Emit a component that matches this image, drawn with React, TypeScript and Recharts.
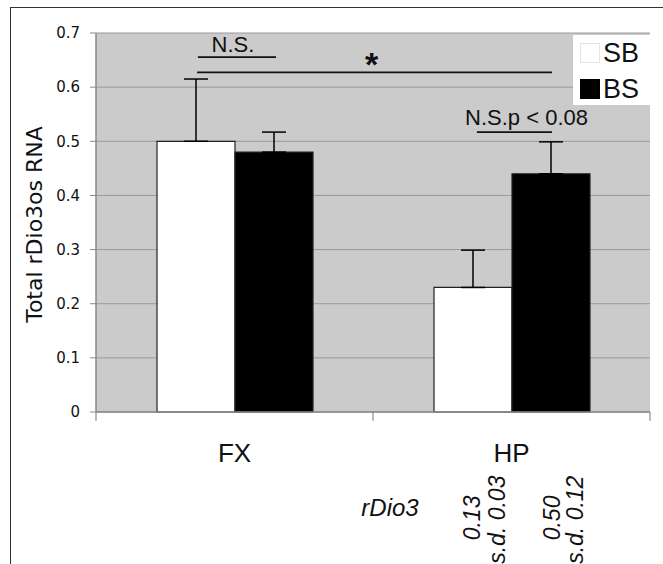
import React from 'react';
import {
  BarChart, Bar, XAxis, YAxis, CartesianGrid, ErrorBar, Legend,
  ReferenceLine, ReferenceDot,
} from 'recharts';

// ---- data ----
const categories = ['FX', 'HP'];
const seriesNames = ['SB', 'BS'];
const sbValues = [0.5, 0.23];
const bsValues = [0.48, 0.44];
const sbErrors = [0.115, 0.069];
const bsErrors = [0.037, 0.059];
const yTicks = [0, 0.1, 0.2, 0.3, 0.4, 0.5, 0.6, 0.7];
const boundaryTicks = [0, 1, 2];
const yTitle = 'Total rDio3os RNA';
const sigLabels = ['N.S.', '*', 'N.S.p < 0.08'];
const rDio3Label = 'rDio3';
const rDio3Means = ['0.13', '0.50'];
const rDio3Sds = ['s.d. 0.03', 's.d. 0.12'];

const data = categories.map((c, i) => ({
  cat: c,
  pos: i + 0.5,
  sb: sbValues[i],
  bs: bsValues[i],
  sbErr: [0, sbErrors[i]],
  bsErr: [0, bsErrors[i]],
}));

const SANS = '"Liberation Sans", Arial, sans-serif';
const VERD = '"DejaVu Sans", Verdana, sans-serif';

const textLabel = (text: string, opts: any) => (props: any) => {
  const vb = props.viewBox || {};
  const x = (vb.x || 0) + (vb.width || 0) / 2;
  const y = (vb.y || 0) + (vb.height || 0) / 2;
  return (
    <text
      x={x}
      y={y}
      textAnchor={opts.anchor || 'middle'}
      transform={opts.rotate ? `rotate(-90, ${x}, ${y})` : undefined}
      style={{
        fontFamily: SANS,
        fontSize: opts.size || 22,
        fontWeight: opts.bold ? 'bold' : 'normal',
        fontStyle: opts.italic ? 'italic' : 'normal',
        fill: '#111',
      }}
    >
      {text}
    </text>
  );
};

const CatTick = (props: any) => {
  const { x, y, payload } = props;
  return (
    <text x={x} y={y + 50} textAnchor="middle" style={{ fontFamily: SANS, fontSize: 26, fill: '#111' }}>
      {payload.value}
    </text>
  );
};

const EmptyTick = () => <g />;

const LegendBox = (props: any) => {
  const payload = [...(props.payload || [])].sort(
    (a: any, b: any) => seriesNames.indexOf(a.value) - seriesNames.indexOf(b.value)
  );
  return (
    <div style={{ background: '#fff', width: 77, height: 70, boxSizing: 'border-box', paddingTop: 8 }}>
      {payload.map((p: any, i: number) => (
        <div key={i} style={{ display: 'flex', alignItems: 'center', height: 20, marginBottom: 16 }}>
          <span
            style={{
              display: 'inline-block', width: 20, height: 20, marginLeft: 7, boxSizing: 'border-box',
              background: p.color, border: p.color === '#ffffff' ? '1px solid #e4e4e4' : 'none',
            }}
          />
          <span style={{ marginLeft: 3, fontFamily: SANS, fontSize: 27, lineHeight: '20px', color: '#111' }}>
            {p.value}
          </span>
        </div>
      ))}
    </div>
  );
};

export default function App() {
  return (
    <div style={{ position: 'absolute', left: 0, top: 0, width: 663, height: 564, overflow: 'hidden', background: '#fff' }}>
      <div
        style={{
          position: 'absolute', left: 10, top: 7, width: 700, height: 600,
          borderLeft: '1.5px solid #333', borderTop: '1.5px solid #333',
        }}
      />
      <div style={{ position: 'absolute', left: 0, top: 0 }}>
        <BarChart
          width={663}
          height={564}
          data={data}
          margin={{ top: 33, right: 13, left: 36, bottom: 102 }}
          barCategoryGap="21.8%"
          barGap={0}
        >
          <CartesianGrid vertical={false} fill="#cbcbcb" stroke="#9a9a9a" strokeWidth={1} />
          <XAxis
            xAxisId="num"
            dataKey="pos"
            type="number"
            domain={[0, 2]}
            ticks={boundaryTicks}
            tick={<EmptyTick />}
            tickLine={false}
            axisLine={false}
            height={0}
            allowDataOverflow
          />
          <XAxis
            dataKey="cat"
            axisLine={{ stroke: '#888', strokeWidth: 1.5 }}
            tickLine={false}
            tickSize={0}
            tickMargin={0}
            height={50}
            tick={<CatTick />}
          />
          <YAxis
            domain={[0, 0.7]}
            ticks={yTicks}
            width={60}
            tickSize={6}
            tickMargin={10}
            axisLine={{ stroke: '#888', strokeWidth: 1.5 }}
            tickLine={{ stroke: '#888' }}
            tick={{ fontFamily: VERD, fontSize: 15, fill: '#111' }}
            label={(props: any) => {
              const vb = props.viewBox || {};
              const cx = 42;
              const cy = (vb.y || 0) + (vb.height || 0) / 2 + 2;
              return (
                <text
                  x={cx}
                  y={cy}
                  textAnchor="middle"
                  transform={`rotate(-90, ${cx}, ${cy})`}
                  style={{ fontFamily: VERD, fontSize: 22, fill: '#111' }}
                >
                  {yTitle}
                </text>
              );
            }}
          />
          <YAxis
            yAxisId="r"
            orientation="right"
            domain={[0, 0.7]}
            width={0}
            tick={false}
            tickLine={false}
            axisLine={{ stroke: '#9a9a9a', strokeWidth: 1.5 }}
          />
          <Legend
            layout="vertical"
            align="center"
            verticalAlign="middle"
            content={<LegendBox />}
            wrapperStyle={{ left: 573, top: 35, width: 77, height: 70 }}
          />
          <Bar dataKey="sb" name={seriesNames[0]} fill="#ffffff" stroke="#222" strokeWidth={1.2} barSize={78} isAnimationActive={false}>
            <ErrorBar dataKey="sbErr" direction="y" width={12} stroke="#000" strokeWidth={1.5} />
          </Bar>
          <Bar dataKey="bs" name={seriesNames[1]} fill="#000000" stroke="#222" strokeWidth={1.2} barSize={78} isAnimationActive={false}>
            <ErrorBar dataKey="bsErr" direction="y" width={12} stroke="#000" strokeWidth={1.5} />
          </Bar>

          {/* category boundary tick marks below the x axis */}
          {boundaryTicks.map((t) => (
            <ReferenceLine
              key={`bt${t}`}
              xAxisId="num"
              segment={[{ x: t, y: 0 }, { x: t, y: -0.016 }]}
              stroke="#888"
              strokeWidth={1.2}
              ifOverflow="visible"
            />
          ))}

          {/* significance brackets */}
          <ReferenceLine xAxisId="num" segment={[{ x: 0.368, y: 0.6556 }, { x: 0.65, y: 0.6556 }]} stroke="#111" strokeWidth={1.8} ifOverflow="visible" />
          <ReferenceLine xAxisId="num" segment={[{ x: 0.365, y: 0.6273 }, { x: 1.646, y: 0.6273 }]} stroke="#111" strokeWidth={1.8} ifOverflow="visible" />
          <ReferenceLine xAxisId="num" segment={[{ x: 1.375, y: 0.517 }, { x: 1.646, y: 0.517 }]} stroke="#111" strokeWidth={1.8} ifOverflow="visible" />
          <ReferenceDot xAxisId="num" x={0.4946} y={0.6658} r={0} ifOverflow="visible" label={textLabel(sigLabels[0], { size: 22 })} />
          <ReferenceDot xAxisId="num" x={0.9946} y={0.6205} r={0} ifOverflow="visible" label={textLabel(sigLabels[1], { size: 34, bold: true })} />
          <ReferenceDot xAxisId="num" x={1.5542} y={0.53} r={0} ifOverflow="visible" label={textLabel(sigLabels[2], { size: 22 })} />

          {/* rDio3 annotation below HP */}
          <ReferenceDot xAxisId="num" x={1.0614} y={-0.1914} r={0} ifOverflow="visible" label={textLabel(rDio3Label, { size: 24, italic: true })} />
          <ReferenceDot xAxisId="num" x={1.386} y={-0.1543} r={0} ifOverflow="visible" label={textLabel(rDio3Means[0], { size: 23, italic: true, rotate: true, anchor: 'end' })} />
          <ReferenceDot xAxisId="num" x={1.4765} y={-0.1174} r={0} ifOverflow="visible" label={textLabel(rDio3Sds[0], { size: 23, italic: true, rotate: true, anchor: 'end' })} />
          <ReferenceDot xAxisId="num" x={1.675} y={-0.1543} r={0} ifOverflow="visible" label={textLabel(rDio3Means[1], { size: 23, italic: true, rotate: true, anchor: 'end' })} />
          <ReferenceDot xAxisId="num" x={1.758} y={-0.1174} r={0} ifOverflow="visible" label={textLabel(rDio3Sds[1], { size: 23, italic: true, rotate: true, anchor: 'end' })} />
        </BarChart>
      </div>
    </div>
  );
}
